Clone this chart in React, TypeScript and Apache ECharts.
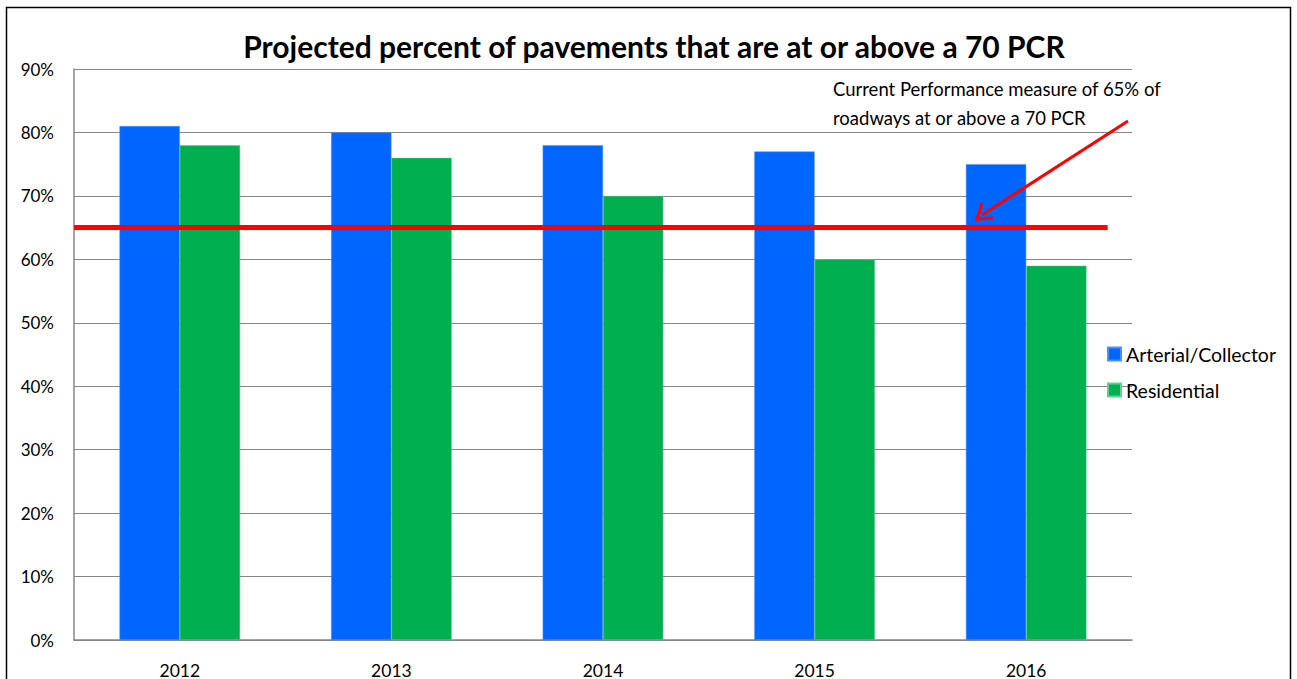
import React, { useEffect, useRef } from "react";
import * as echarts from "echarts";

const categories = ["2012", "2013", "2014", "2015", "2016"];
const arterial = [81, 80, 78, 77, 75];
const residential = [78, 76, 70, 60, 59];
const target = 65;
const seriesNames = ["Arterial/Collector", "Residential"];
const titleText = "Projected percent of pavements that are at or above a 70 PCR";
const noteLines = ["Current Performance measure of 65% of", "roadways at or above a 70 PCR"];

const FONT = "Lato, 'Open Sans', sans-serif";

export default function App() {
  const ref = useRef<HTMLDivElement>(null);
  useEffect(() => {
    document.body.style.margin = "0";
    const chart = echarts.init(ref.current!, null, { renderer: "svg" });
    chart.setOption({
      animation: false,
      backgroundColor: "#fff",
      textStyle: { fontFamily: FONT },
      title: {
        text: titleText,
        left: 649,
        top: 26,
        textAlign: "center",
        textStyle: { fontSize: 30, fontWeight: "bold", color: "#000", fontFamily: FONT },
      },
      grid: { left: 74, right: 165, top: 69, bottom: 36, containLabel: false },
      legend: {
        orient: "vertical",
        left: 1102,
        top: 339,
        itemWidth: 13,
        itemHeight: 13,
        itemGap: 16,
        icon: "rect",
        data: seriesNames,
        textStyle: { fontSize: 19.5, color: "#000", fontFamily: FONT },
      },
      xAxis: [
        {
          type: "category",
          data: categories,
          axisLine: { lineStyle: { color: "#868686", width: 1.5 } },
          axisTick: { show: false },
          axisLabel: { fontSize: 17.5, color: "#000", margin: 21 },
        },
        {
          type: "value",
          min: 0,
          max: 1,
          show: false,
        },
      ],
      yAxis: {
        type: "value",
        min: 0,
        max: 90,
        interval: 10,
        axisLine: { show: true, lineStyle: { color: "#868686", width: 1.5 } },
        axisTick: { show: false },
        splitLine: { lineStyle: { color: "#868686", width: 1 } },
        axisLabel: { formatter: "{value}%", fontSize: 17, color: "#000", margin: 20 },
      },
      series: [
        {
          name: seriesNames[0],
          type: "bar",
          data: arterial,
          barGap: "0%",
          barCategoryGap: "43%",
          itemStyle: { color: "#0066FF", borderColor: "#4F8FFF", borderWidth: 0.5 },
        },
        {
          name: seriesNames[1],
          type: "bar",
          data: residential,
          itemStyle: { color: "#00B050", borderColor: "#5FD08F", borderWidth: 0.5 },
        },
        {
          name: "target",
          type: "line",
          xAxisIndex: 1,
          data: [
            [0, target],
            [0.977, target],
          ],
          symbol: "none",
          lineStyle: { color: "#FF0000", width: 5 },
          silent: true,
          z: 5,
        },
      ],
      graphic: [
        {
          type: "rect",
          shape: { x: 6.5, y: 7.5, width: 1284, height: 720 },
          style: { fill: "none", stroke: "#000", lineWidth: 1.5 },
          silent: true,
        },
        {
          type: "text",
          x: 833,
          y: 74,
          style: {
            text: noteLines.join("\n"),
            fontSize: 18.5,
            lineHeight: 29,
            fill: "#000",
            fontFamily: FONT,
          },
        },
        {
          type: "line",
          shape: { x1: 1128, y1: 121, x2: 982, y2: 215 },
          style: { stroke: "#FF0000", lineWidth: 3 },
          z: 10,
        },
        {
          type: "polyline",
          shape: { points: [[982, 203], [977, 219], [993, 218]] },
          style: { stroke: "#FF0000", lineWidth: 3, fill: "none" },
          z: 10,
        },
      ],
    });
    return () => chart.dispose();
  }, []);
  return <div ref={ref} style={{ width: 1297, height: 679 }} />;
}
